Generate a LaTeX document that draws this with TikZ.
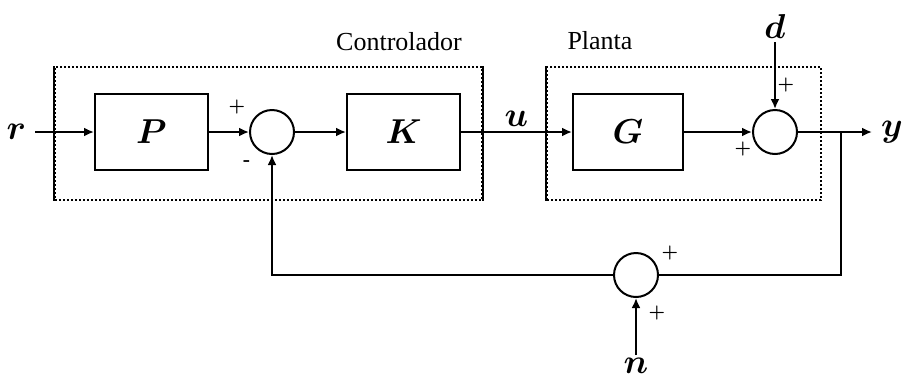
\documentclass[tikz,border=0pt]{standalone}
\usepackage{fontspec}
\usetikzlibrary{arrows.meta,positioning,calc}
\newfontfamily\capfont{Liberation Serif}
\tikzset{
  blk/.style={draw,line width=1pt,minimum width=56.5pt,minimum height=38pt,font=\LARGE\boldmath},
  sumc/.style={draw,circle,line width=1pt,minimum size=22pt,inner sep=0pt},
  frame/.style={densely dotted,line width=1pt,minimum width=213.5pt,minimum height=66.5pt},
  sgn/.style={font=\small\boldmath,inner sep=1pt},
  lbl/.style={font=\LARGE\boldmath},
  captxt/.style={font=\capfont\fontsize{13}{15}\selectfont,anchor=base},
  ar/.style={-{Latex[length=5pt,width=4.5pt]},line width=1pt},
  ln/.style={line width=1pt},
}

\begin{document}
\begin{tikzpicture}[x=0.5pt,y=-0.5pt]
  \useasboundingbox (0,0) rectangle (903,381);
  % frames
  \node[frame,draw] (ctrl) at (268.5,133.5) {};
  \node[frame,draw,minimum width=137pt] (plant) at (684,133.5) {};
  \draw[ln] (ctrl.north west) -- (ctrl.south west);
  \draw[ln] (ctrl.north east) -- (ctrl.south east);
  \draw[ln] (plant.north west) -- (plant.south west);
  \node[captxt] (ctrltxt) at (399,50) {Controlador};
  \node[captxt] (planttxt) at (600,49) {Planta};
  % blocks
  \node[blk] (P) at (151.5,132) {$P$};
  \node[sumc] (s1) at (272,132) {};
  \node[blk] (K) at (403.5,132) {$K$};
  \node[blk,minimum width=55pt] (G) at (628,132) {$G$};
  \node[sumc] (s2) at (775,132) {};
  \node[sumc] (s3) at (636,275) {};
  % free ends
  \coordinate (rin) at (35,132);
  \coordinate (din) at (775,42);
  \coordinate (yout) at (872,132);
  \coordinate (br) at (841,132);
  \coordinate (nin) at (636,355);
  \node[lbl,left=1pt of rin] (r) {$r$};
  \node[lbl,above=-2pt of din] (d) {$d$};
  \node[lbl,right=1pt of yout] (y) {$y$};
  \node[lbl,below=-2pt of nin] (n) {$n$};
  % signals
  \draw[ar] (rin) -- (P);
  \draw[ar] (P) -- (s1);
  \draw[ar] (s1) -- (K);
  \draw[ar] (K) -- node[lbl,above=-1pt] (u) {$u$} (G);
  \draw[ar] (G) -- (s2);
  \draw[ar] (din) -- (s2);
  \draw[ar] (s2) -- (yout);
  \draw[ln] (br) |- (s3);
  \draw[ar] (nin) -- (s3);
  \draw[ar] (s3) -| (s1);
  % signs
  \node[sgn] at ($(s1)+(-35,-25)$) {$+$};
  \node[sgn] at ($(s1)+(-25,31)$) {\textbf{-}};
  \node[sgn] at ($(s2)+(11,-47)$) {$+$};
  \node[sgn] at ($(s2)+(-32,17)$) {$+$};
  \node[sgn] at ($(s3)+(34,-22)$) {$+$};
  \node[sgn] at ($(s3)+(21,38)$) {$+$};
\end{tikzpicture}
\end{document}
